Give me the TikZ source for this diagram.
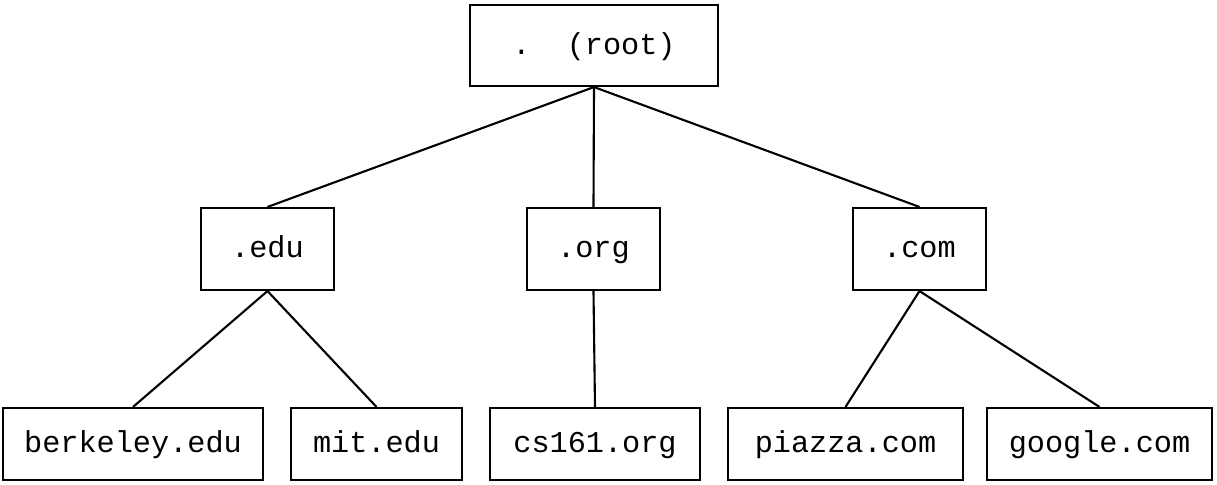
\documentclass[tikz,border=0pt]{standalone}
\usepackage{fontspec}
\setmonofont{Liberation Mono}
\usepackage{tikz}

\begin{document}
\begin{tikzpicture}[line width=0.6pt,
    box/.style={draw, rectangle, inner sep=0pt, text height=0.62em, text depth=0.12em,
      font=\ttfamily\fontsize{8.6pt}{10pt}\selectfont},
    mid/.style={box, minimum width=1.33cm, minimum height=0.82cm},
    leaf/.style={box, minimum height=0.72cm}]
            \useasboundingbox (0,0) rectangle (12.17,4.84);
            \node[box, minimum width=2.48cm, minimum height=0.81cm] (root) at (5.94,4.385) {.~~(root)};
            \node[mid] (edu) at (2.675,2.35) {.edu};
            \node[mid] (org) at (5.935,2.35) {.org};
            \node[mid] (com) at (9.195,2.35) {.com};
            \node[leaf, minimum width=2.6cm] (berkeley) at (1.33,0.40) {berkeley.edu};
            \node[leaf, minimum width=1.71cm] (mit) at (3.765,0.40) {mit.edu};
            \node[leaf, minimum width=2.10cm] (cs161) at (5.95,0.40) {cs161.org};
            \node[leaf, minimum width=2.35cm] (piazza) at (8.455,0.40) {piazza.com};
            \node[leaf, minimum width=2.25cm] (google) at (10.995,0.40) {google.com};
            \path (root.south) edge (edu.north);
            \path (root.south) edge (org.north);
            \path (root.south) edge (com.north);
            \path (edu.south) edge (berkeley.north);
            \path (edu.south) edge (mit.north);
            \path (org.south) edge (cs161.north);
            \path (com.south) edge (piazza.north);
            \path (com.south) edge (google.north);
        \end{tikzpicture}
\end{document}
